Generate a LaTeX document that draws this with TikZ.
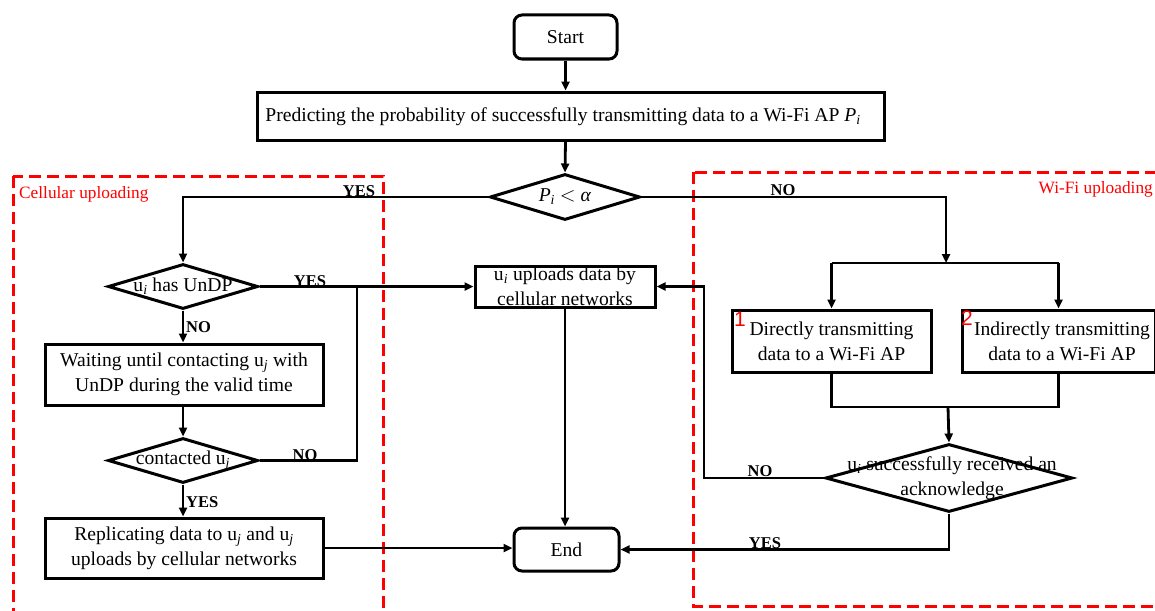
\documentclass[tikz,border=0pt]{standalone}
\usepackage{fontspec}
\setmainfont{Liberation Serif}
\newfontfamily\numfont{Liberation Sans}
\usetikzlibrary{shapes.geometric,arrows.meta,calc}
\newcommand{\Pit}{\textit{P}\textsubscript{\textit{i}}}
\begin{document}
\begin{tikzpicture}[x=1pt,y=-1pt,
  every node/.style={font=\fontsize{19.6}{25}\selectfont},
  box/.style={draw,line width=3pt,inner sep=0pt,align=center},
  term/.style={box,rounded corners=8pt},
  dia/.style={draw,diamond,line width=3pt,inner sep=0pt},
  arr/.style={line width=2.8pt,-{Triangle[length=9pt,width=8pt]}},
  ln/.style={line width=2.8pt},
  lab/.style={font=\fontsize{16.5}{18}\bfseries\selectfont,inner sep=0pt},
  region/.style={draw=red,line width=3pt,dash pattern=on 12pt off 6pt},
  regionlab/.style={text=red,font=\fontsize{17.3}{18}\selectfont,inner sep=0pt},
  num/.style={text=red,font=\fontsize{21}{22}\numfont,inner sep=0pt}]
\useasboundingbox (0,0) rectangle (1155,610);
\fill[white] (0,0) rectangle (1155,610);
% regions
\draw[region] (13,176) rectangle (383,630);
\draw[region] (693,172) rectangle (1175,606);
\node[regionlab,anchor=west] (cellab) at (19,194) {Cellular uploading};
\node[regionlab,anchor=east] (wifilab) at (1153,189) {Wi-Fi uploading};
% nodes
\node[term,minimum width=103pt,minimum height=44pt] (start) at (565.5,37) {Start};
\node[box,minimum width=627pt,minimum height=48pt] (pred) at (570.5,116) {};
\node[inner sep=0pt] (predt) at (563,117) {Predicting the probability of successfully transmitting data to a Wi-Fi AP \Pit};
\node[dia,minimum width=150pt,minimum height=46pt] (d1) at (565,197) {};
\node (d1t) at (d1) {\Pit\ $<$ \textit{α}};
\node[box,minimum width=180pt,minimum height=41pt] (cell) at (565,286.5) {u\textsubscript{\textit{i}} uploads data by\\cellular networks};
\node[term,minimum width=105pt,minimum height=43pt] (end) at (566.5,549.5) {End};
\node[dia,minimum width=150pt,minimum height=45pt] (d2) at (183,286.5) {};
\node (d2t) at (d2) {u\textsubscript{\textit{i}} has UnDP};
\node[box,minimum width=278pt,minimum height=61pt] (wait) at (184,374.5) {Waiting until contacting u\textsubscript{\textit{j}} with\\UnDP during the valid time};
\node[dia,minimum width=150pt,minimum height=45pt] (d4) at (183,460.5) {};
\node (d4t) at (d4) {contacted u\textsubscript{\textit{j}}};
\node[box,minimum width=278pt,minimum height=60pt] (rep) at (184,548) {Replicating data to u\textsubscript{\textit{j}} and u\textsubscript{\textit{j}}\\uploads by cellular networks};
\node[box,minimum width=199pt,minimum height=62pt] (b1) at (831.5,341) {Directly transmitting\\data to a Wi-Fi AP};
\node[box,minimum width=193pt,minimum height=62pt] (b2) at (1058.5,341) {};
\node[align=center,inner sep=0pt] (b2t) at (1062,341) {Indirectly transmitting\\data to a Wi-Fi AP};
\node[num,anchor=north west] (n1) at (734,312) {1};
\node[num,anchor=north west] (n2) at (961,311) {2};
\node[dia,minimum width=247pt,minimum height=68pt] (d3) at (949,478) {};
\node[align=center] (d3t) at (952,478) {u\textsubscript{\textit{i}} successfully received an\\acknowledge};
% coordinates
\coordinate (split) at (946,263);
\coordinate (join) at (948,407);
\coordinate (merge) at (357,286.5);
% connectors
\draw[arr] (start.south) -- (start.south |- pred.north);
\draw[arr] (start.south |- pred.south) -- (d1.north);
\draw[arr] (d1.west) -| (d2.north);
\draw[arr] (d1.east) -| (split);
\draw[ln] (b1.north |- split) -- (b2.north |- split);
\draw[arr] (b1.north |- split) -- (b1.north);
\draw[arr] (b2.north |- split) -- (b2.north);
\draw[ln] (b1.south) |- (join) -| (b2.south);
\draw[arr] (join) -- (d3.north);
\draw[arr] (d3.west) -- ++(-120,0) |- (cell.east);
\draw[arr] (d3.south) |- (end.east);
\draw[arr] (cell.south) -- (cell.south |- end.north);
\draw[arr] (d2.east) -- (cell.west);
\draw[arr] (d2.south) -- (d2.south |- wait.north);
\draw[arr] (d2.south |- wait.south) -- (d4.north);
\draw[ln] (d4.east) -| (merge);
\draw[arr] (d4.south) -- (d4.south |- rep.north);
\draw[arr] (rep.east) -- (rep.east -| end.west);
% labels
\node[lab,anchor=south] (l1) at (359,197) {YES};
\node[lab,anchor=south] (l2) at (783,196) {NO};
\node[lab,anchor=south] (l3) at (310,287) {YES};
\node[lab,anchor=west] (l4) at (186,327) {NO};
\node[lab,anchor=south] (l5) at (305,461) {NO};
\node[lab,anchor=west] (l6) at (186,502) {YES};
\node[lab,anchor=south] (l7) at (760,477) {NO};
\node[lab,anchor=south] (l8) at (765,549) {YES};
\end{tikzpicture}
\end{document}
